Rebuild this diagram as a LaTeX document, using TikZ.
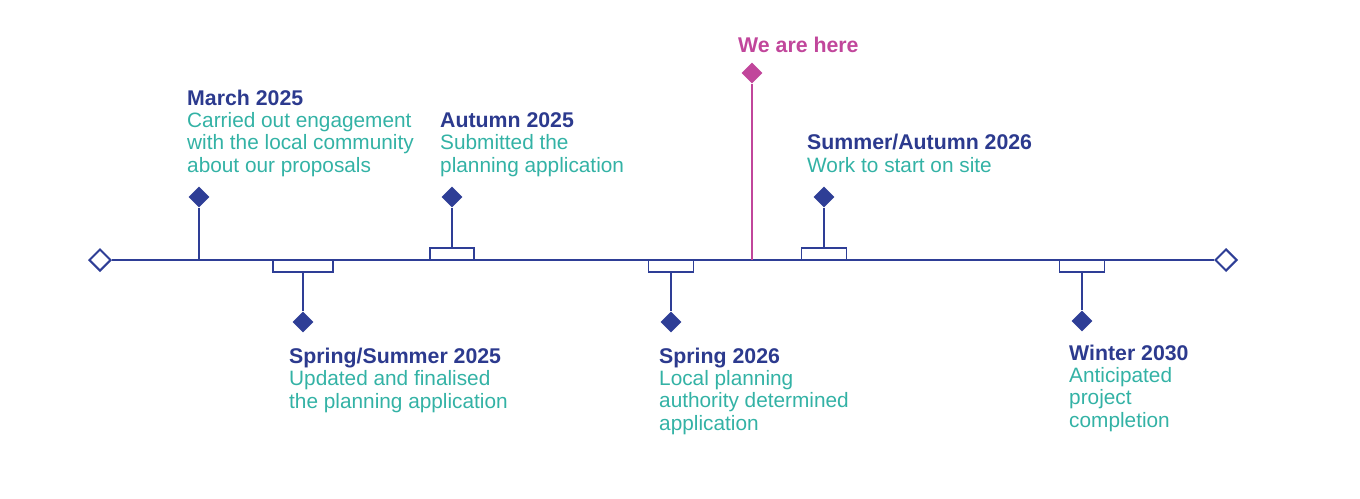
\documentclass[tikz,border=0pt]{standalone}
\usepackage{fontspec}
\setmainfont{Liberation Sans}
\usetikzlibrary{shapes.geometric}
\definecolor{navy}{HTML}{2C3A8E}
\definecolor{linec}{HTML}{2E3E96}
\definecolor{teal}{HTML}{33B2A5}
\definecolor{magent}{HTML}{C1469B}
\newcommand{\ttlfont}{\fontsize{21.3}{22.3}\selectfont\bfseries}
\tikzset{
  endmark/.style={diamond,draw=linec,fill=white,line width=2pt,minimum size=22pt,inner sep=0pt},
  dot/.style={diamond,fill=linec,minimum size=21pt,inner sep=0pt},
  tab/.style={rectangle,draw=linec,fill=white,line width=1.8pt,minimum height=12pt,inner sep=0pt},
  stem/.style={draw=linec,line width=2pt},
  label/.style={anchor=base west,align=left,inner sep=0pt,text=teal,font=\fontsize{20.8}{22.3}\selectfont},
}
\begin{document}
\begin{tikzpicture}[x=1pt,y=-1pt]
\useasboundingbox (0,0) rectangle (1360,498);
% end marks
\node[endmark] (L) at (100,260) {};
\node[endmark] (R) at (1226,260) {};
\draw[stem] (L.east) -- (R.west);
% We are here
\coordinate (H) at (752,260);
\node[diamond,fill=magent,minimum size=21pt,inner sep=0pt] (HD) at (752,73) {};
\draw[draw=magent,line width=1.8pt] (H) -- (HD.south);
\node[anchor=base west,inner sep=0pt,text=magent,font=\ttlfont] (HT) at (738,52) {We are here};
% March 2025
\coordinate (M) at (199,260);
\node[dot] (MD) at (199,197) {};
\draw[stem] (M) -- (MD.south);
\node[label] (MT) at (187,172) {{\color{navy}\ttlfont March 2025}\\Carried out engagement\\with the local community\\about our proposals};
% Spring/Summer 2025
\node[tab,minimum width=60pt] (SS) at (303,266) {};
\node[dot] (SSD) at (303,322) {};
\draw[stem] (SS.south) -- (SSD.north);
\node[label] (SST) at (289,408) {{\color{navy}\ttlfont Spring/Summer 2025}\\Updated and finalised\\the planning application};
% Autumn 2025
\node[tab,minimum width=44pt] (A) at (452,254) {};
\node[dot] (AD) at (452,197) {};
\draw[stem] (A.north) -- (AD.south);
\node[label] (AT) at (440,172) {{\color{navy}\ttlfont Autumn 2025}\\Submitted the\\planning application};
% Spring 2026
\node[tab,minimum width=45pt] (S) at (671,266) {};
\node[dot] (SD) at (671,322) {};
\draw[stem] (S.south) -- (SD.north);
\node[label] (ST) at (659,430) {{\color{navy}\ttlfont Spring 2026}\\Local planning\\authority determined\\application};
% Summer/Autumn 2026
\node[tab,minimum width=45pt] (SA) at (824,254) {};
\node[dot] (SAD) at (824,197) {};
\draw[stem] (SA.north) -- (SAD.south);
\node[label] (SAT) at (807,172) {{\color{navy}\ttlfont Summer/Autumn 2026}\\Work to start on site};
% Winter 2030
\node[tab,minimum width=45pt] (W) at (1082,266) {};
\node[dot] (WD) at (1082,321) {};
\draw[stem] (W.south) -- (WD.north);
\node[label] (WT) at (1069,427) {{\color{navy}\ttlfont Winter 2030}\\Anticipated\\project\\completion};
\end{tikzpicture}
\end{document}
